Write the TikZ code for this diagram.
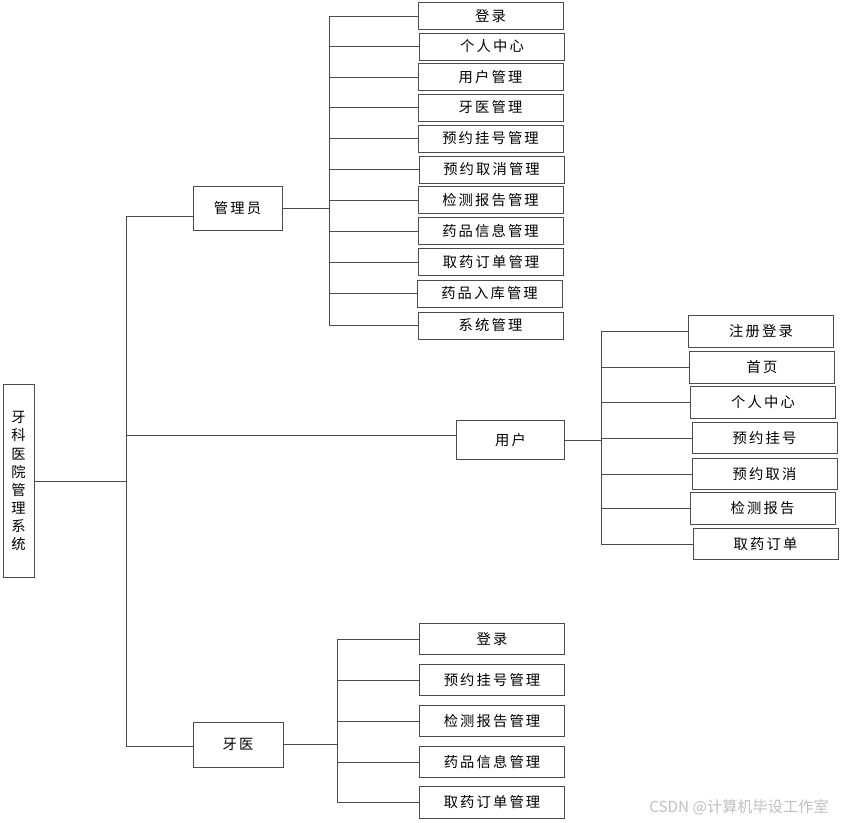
\documentclass[tikz,border=0pt]{standalone}
\usepackage{fontspec}
\newfontfamily\cjk[LetterSpace=15]{Noto Sans CJK SC}
\newfontfamily\cjkmark{Noto Sans CJK SC}
\usetikzlibrary{positioning,calc}

\begin{document}
\begin{tikzpicture}[x=0.03cm,y=-0.03cm,
  every node/.style={font=\cjk\fontsize{12.2}{15.4}\selectfont,text=black},
  box/.style={draw=black!70,line width=0.7pt,inner sep=0pt},
  leaf/.style={box,minimum width=4.35cm,minimum height=0.81cm},
  uleaf/.style={box,minimum width=4.35cm,minimum height=0.95cm},
  link/.style={draw=black!70,line width=0.7pt}]
  \useasboundingbox (0,0) rectangle (843,823);
  % 系统(左)
  \node[box,minimum width=0.93cm,minimum height=5.79cm,align=center] (root) at (18.5,481)
    {牙\\科\\医\\院\\管\\理\\系\\统};
  \coordinate (t1) at (126,216);
  \coordinate (t2) at (126,435);
  \coordinate (t3) at (126,746);
  \draw[link] (root.east) -- (root.east -| t1);
  \draw[link] (t1) -- (t3);
  % 管理员
  \node[box,minimum width=2.67cm,minimum height=1.32cm] (admin) at (237.5,208) {管理员};
  \draw[link] (t1) -- (t1 -| admin.west);
  \coordinate (abus) at (329,208);
  \node[leaf] (a1) at (490.5,16) {登录};
  \node[leaf] (a2) at (492,46.5) {个人中心};
  \node[leaf] (a3) at (490.5,77) {用户管理};
  \node[leaf] (a4) at (490.5,107.5) {牙医管理};
  \node[leaf] (a5) at (490.5,138.5) {预约挂号管理};
  \node[leaf] (a6) at (491.5,169.5) {预约取消管理};
  \node[leaf] (a7) at (490.5,200) {检测报告管理};
  \node[leaf] (a8) at (490.5,231) {药品信息管理};
  \node[leaf] (a9) at (491,262) {取药订单管理};
  \node[leaf] (a10) at (489.5,293.5) {药品入库管理};
  \node[leaf] (a11) at (490.5,325.5) {系统管理};
  \draw[link] (admin.east) -- (abus);
  \draw[link] (a1.west -| abus) -- (a11.west -| abus);
  \foreach \i in {1,...,11}
    \draw[link] (a\i.west -| abus) -- (a\i.west);
  % 用户
  \node[box,minimum width=3.24cm,minimum height=1.17cm] (user) at (510.5,440) {用户};
  \draw[link] (t2) -- (t2 -| user.west);
  \coordinate (ubus) at (601,440);
  \node[uleaf] (u1) at (761,331.5) {注册登录};
  \node[uleaf] (u2) at (762,367.5) {首页};
  \node[uleaf] (u3) at (763,402.5) {个人中心};
  \node[uleaf] (u4) at (764.5,438) {预约挂号};
  \node[uleaf] (u5) at (764.5,474) {预约取消};
  \node[uleaf] (u6) at (762.5,508.5) {检测报告};
  \node[uleaf] (u7) at (765.5,544) {取药订单};
  \draw[link] (user.east) -- (ubus);
  \draw[link] (u1.west -| ubus) -- (u7.west -| ubus);
  \foreach \i in {1,...,7}
    \draw[link] (u\i.west -| ubus) -- (u\i.west);
  % 牙医
  \node[box,minimum width=2.7cm,minimum height=1.35cm] (dentist) at (238,744.5) {牙医};
  \draw[link] (t3) -- (t3 -| dentist.west);
  \coordinate (dbus) at (337,744.5);
  \node[uleaf] (d1) at (492,639) {登录};
  \node[uleaf] (d2) at (492,680) {预约挂号管理};
  \node[uleaf] (d3) at (492,721) {检测报告管理};
  \node[uleaf] (d4) at (492,762) {药品信息管理};
  \node[uleaf] (d5) at (492,802.5) {取药订单管理};
  \draw[link] (dentist.east) -- (dbus);
  \draw[link] (d1.west -| dbus) -- (d5.west -| dbus);
  \foreach \i in {1,...,5}
    \draw[link] (d\i.west -| dbus) -- (d\i.west);
  % 水印
  \node[anchor=east,font=\cjkmark\fontsize{13}{15}\selectfont,text=black!25] (mark) at (833,807)
    {CSDN @计算机毕设工作室};
\end{tikzpicture}
\end{document}
